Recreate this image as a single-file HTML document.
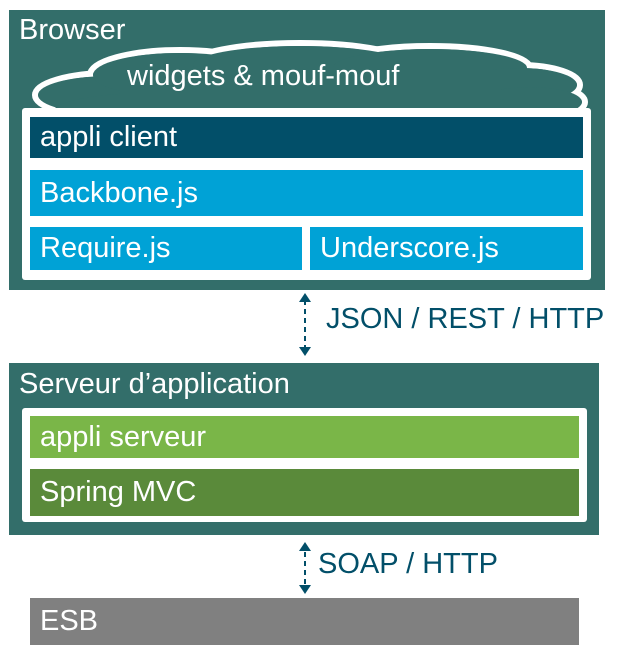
<!DOCTYPE html>
<html><head><meta charset="utf-8"><style>
body{margin:0;width:622px;height:655px;background:#fff;position:relative;overflow:hidden;font-family:"Liberation Sans",Arial,sans-serif}
.a{position:absolute;box-sizing:border-box}
.t{color:#fff;font-size:29px;padding-left:10px;display:flex;align-items:center}
.f{font-size:29px}
</style></head><body>
<div class="a" style="left:9px;top:10px;width:596px;height:280px;background:#336e6a"></div>
<div class="a f" style="left:19px;top:14px;color:#fff">Browser</div>
<svg class="a" style="left:0;top:0" width="622" height="290">
<g fill="#336e6a" stroke="#fff" stroke-width="6">
<ellipse cx="110" cy="95" rx="75" ry="22"/>
<ellipse cx="150" cy="112" rx="100" ry="22"/>
<ellipse cx="180" cy="75" rx="90" ry="25"/>
<ellipse cx="300" cy="65" rx="110" ry="22"/>
<ellipse cx="430" cy="68" rx="100" ry="22"/>
<ellipse cx="520" cy="85" rx="60" ry="20"/>
<ellipse cx="530" cy="102" rx="55" ry="18"/>
<ellipse cx="470" cy="115" rx="80" ry="20"/>
<ellipse cx="310" cy="125" rx="110" ry="22"/>
</g>
<g fill="#336e6a">
<ellipse cx="110" cy="95" rx="72" ry="19"/>
<ellipse cx="150" cy="112" rx="97" ry="19"/>
<ellipse cx="180" cy="75" rx="87" ry="22"/>
<ellipse cx="300" cy="65" rx="107" ry="19"/>
<ellipse cx="430" cy="68" rx="97" ry="19"/>
<ellipse cx="520" cy="85" rx="57" ry="17"/>
<ellipse cx="530" cy="102" rx="52" ry="15"/>
<ellipse cx="470" cy="115" rx="77" ry="17"/>
<ellipse cx="310" cy="125" rx="107" ry="19"/>
<rect x="120" y="70" width="380" height="50"/>
</g>
</svg>
<div class="a f" style="left:127px;top:60px;color:#fff">widgets &amp; mouf-mouf</div>
<div class="a" style="left:22px;top:108px;width:569px;height:172px;background:#fff;border-radius:3px"></div>
<div class="a t" style="left:30px;top:117px;width:553px;height:41px;background:#024f69">appli client</div>
<div class="a t" style="left:30px;top:170px;width:553px;height:46px;background:#00a2d6">Backbone.js</div>
<div class="a t" style="left:30px;top:227px;width:272px;height:43px;background:#00a2d6">Require.js</div>
<div class="a t" style="left:310px;top:227px;width:273px;height:43px;background:#00a2d6">Underscore.js</div>

<svg class="a" style="left:0;top:290px" width="622" height="310">
<g stroke="#024f69" stroke-width="2" stroke-dasharray="5,4" fill="none">
<line x1="305" y1="10" x2="305" y2="58"/>
<line x1="305" y1="262" x2="305" y2="295"/>
</g>
<g fill="#024f69">
<polygon points="299,12 311,12 305,3"/><polygon points="299,57 311,57 305,66"/>
<polygon points="299,261 311,261 305,252"/><polygon points="299,295 311,295 305,304"/>
</g>
</svg>
<div class="a f" style="left:326px;top:303px;color:#024f69">JSON / REST / HTTP</div>

<div class="a" style="left:9px;top:363px;width:590px;height:172px;background:#336e6a"></div>
<div class="a f" style="left:19px;top:368px;color:#fff">Serveur d’application</div>
<div class="a" style="left:22px;top:408px;width:565px;height:114px;background:#fff;border-radius:3px"></div>
<div class="a t" style="left:30px;top:416px;width:549px;height:42px;background:#7ab648">appli serveur</div>
<div class="a t" style="left:30px;top:469px;width:549px;height:47px;background:#5a8a3a">Spring MVC</div>

<div class="a f" style="left:318px;top:548px;color:#024f69">SOAP / HTTP</div>
<div class="a t" style="left:30px;top:598px;width:549px;height:47px;background:#808080">ESB</div>
</body></html>
